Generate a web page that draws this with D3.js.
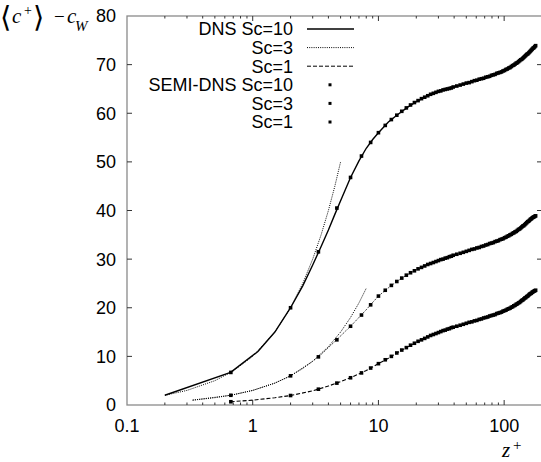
<!DOCTYPE html>
<html>
<head>
<meta charset="utf-8">
<script src="https://cdn.jsdelivr.net/npm/d3@7"></script>
<style>
  body { margin: 0; background: #fff; }
  svg { display: block; }
</style>
</head>
<body>
<div id="chart"></div>
<script>
// DNS curves
var dnsZ10 = [0.2, 0.667, 1.1, 1.5, 2, 2.5, 3, 3.5, 4, 4.5, 5, 6, 7, 8, 9, 10, 12, 14, 17, 20, 25, 30, 40, 50, 60, 70, 80, 100, 120, 140, 160, 180];
var dnsC10 = [2, 6.7, 11, 15, 20, 24.5, 28.8, 32.6, 36, 39.2, 42, 46.8, 50.2, 52.8, 54.6, 56.0, 58.2, 59.6, 61.2, 62.4, 63.7, 64.5, 65.4, 66.2, 66.8, 67.35, 67.85, 68.85, 70.0, 71.3, 72.7, 74.0];

var dnsZ3 = [0.333, 0.667, 1, 1.5, 2, 2.5, 3, 3.5, 4, 5, 6, 7, 8, 9, 10, 12, 14, 17, 20, 25, 30, 40, 50, 60, 70, 80, 100, 120, 140, 160, 180];
var dnsC3 = [1, 2, 3, 4.5, 6, 7.5, 9, 10.4, 11.8, 14.2, 16.2, 18.0, 19.6, 21.1, 22.4, 24.1, 25.4, 26.8, 27.8, 28.9, 29.7, 30.8, 31.6, 32.2, 32.9, 33.4, 34.4, 35.4, 36.7, 38.0, 39.0];

var dnsZ1 = [0.667, 1, 1.5, 2, 3, 4, 5, 6, 7, 8, 10, 12, 14, 17, 20, 25, 30, 40, 50, 60, 70, 80, 100, 120, 140, 160, 180];
var dnsC1 = [0.67, 1.0, 1.5, 1.95, 2.9, 3.9, 4.8, 5.6, 6.4, 7.1, 8.5, 9.6, 10.7, 11.9, 12.9, 14.1, 14.9, 16.0, 16.8, 17.4, 17.9, 18.4, 19.4, 20.4, 21.6, 22.8, 23.6];

// near-wall lines, drawn dotted without a key entry
var wallZ10 = [0.2, 0.3, 0.5, 0.7, 1, 1.5, 2, 2.5, 3, 3.5, 4, 4.5, 5];
var wallC10 = [2, 3, 5, 7, 10, 15, 20, 25, 30, 35, 40, 45, 50];
var wallZ3 = [0.333, 0.5, 0.7, 1, 1.5, 2, 3, 4, 5, 6, 7, 8];
var wallC3 = [1, 1.5, 2.1, 3, 4.5, 6, 9, 12, 15, 18, 21, 24];

// SEMI-DNS points
var semiZ = [0.67, 2, 3.33, 4.67, 6, 7.33, 8.67, 10, 11.33, 12.67, 14, 15.33, 16.67, 18, 19.33, 20.67, 22, 23.33, 24.67, 26,
  27.33, 28.67, 30, 31.33, 32.67, 34, 35.33, 36.67, 38, 39.33,
  42, 44.67, 47.33, 50, 52.67, 55.33, 58, 60.67, 63.33, 66, 68.67, 71.33, 74, 76.67, 79.33, 82, 84.67, 87.33, 90, 92.67,
  95.33, 98, 100.67, 103.33, 106, 108.67, 111.33, 114, 116.67, 119.33, 122, 124.67, 127.33, 130, 132.67, 135.33, 138, 140.67, 143.33, 146,
  148.67, 151.33, 154, 156.67, 159.33, 162, 164.67, 167.33, 170, 172.67, 175.33, 178];
var semiC10 = [6.7, 20, 31.5, 40.5, 46.8, 51.2, 54.0, 56.0, 57.5, 58.7, 59.6, 60.4, 61.1, 61.7, 62.2, 62.6, 63.0, 63.3, 63.6, 63.9,
  64.1, 64.3, 64.5, 64.6, 64.8, 64.9, 65.0, 65.1, 65.2, 65.4,
  65.6, 65.8, 66.0, 66.2, 66.3, 66.5, 66.7, 66.8, 67.0, 67.1, 67.2, 67.4, 67.5, 67.6, 67.8, 67.9, 68.0, 68.2, 68.3, 68.4,
  68.5, 68.7, 68.8, 69.0, 69.1, 69.3, 69.4, 69.6, 69.8, 69.9, 70.1, 70.3, 70.4, 70.6, 70.8, 71.0, 71.1, 71.3, 71.5, 71.7,
  71.9, 72.1, 72.2, 72.4, 72.6, 72.8, 73.0, 73.2, 73.4, 73.5, 73.7, 73.9];
var semiC3 = [2.0, 6.0, 9.9, 13.4, 16.2, 18.5, 20.6, 22.4, 23.6, 24.6, 25.4, 26.1, 26.7, 27.2, 27.6, 28.0, 28.3, 28.6, 28.9, 29.1,
  29.3, 29.5, 29.7, 29.9, 30.0, 30.2, 30.3, 30.5, 30.6, 30.8,
  31.0, 31.2, 31.4, 31.6, 31.8, 32.0, 32.1, 32.3, 32.4, 32.6, 32.7, 32.9, 33.0, 33.2, 33.3, 33.4, 33.6, 33.7, 33.8, 34.0,
  34.1, 34.2, 34.4, 34.5, 34.7, 34.8, 35.0, 35.1, 35.3, 35.4, 35.6, 35.7, 35.9, 36.1, 36.2, 36.4, 36.6, 36.8, 36.9, 37.1,
  37.3, 37.5, 37.7, 37.8, 38.0, 38.2, 38.3, 38.5, 38.6, 38.7, 38.8, 38.9];
var semiC1 = [0.67, 1.95, 3.25, 4.5, 5.6, 6.6, 7.6, 8.5, 9.3, 10.0, 10.7, 11.3, 11.8, 12.3, 12.7, 13.1, 13.4, 13.7, 14.0, 14.3,
  14.5, 14.7, 14.9, 15.1, 15.3, 15.4, 15.6, 15.7, 15.9, 16.0,
  16.2, 16.4, 16.6, 16.8, 17.0, 17.1, 17.3, 17.4, 17.6, 17.7, 17.9, 18.0, 18.1, 18.3, 18.4, 18.5, 18.6, 18.8, 18.9, 19.0,
  19.1, 19.3, 19.4, 19.5, 19.7, 19.8, 19.9, 20.1, 20.2, 20.4, 20.5, 20.7, 20.8, 21.0, 21.1, 21.3, 21.5, 21.6, 21.8, 22.0,
  22.1, 22.3, 22.4, 22.6, 22.8, 22.9, 23.0, 23.2, 23.3, 23.4, 23.5, 23.6];

var xTicks = [0.1, 1, 10, 100];
var yTicks = [0, 10, 20, 30, 40, 50, 60, 70, 80];
var keyLabels = ["DNS Sc=10", "Sc=3", "Sc=1", "SEMI-DNS Sc=10", "Sc=3", "Sc=1"];

var width = 541, height = 462;
var plotL = 127, plotR = 542, plotT = 16, plotB = 405;

var svg = d3.select("#chart").append("svg")
    .attr("width", width)
    .attr("height", height);

var x = d3.scaleLog().domain([0.1, 200]).range([plotL, plotR]);
var y = d3.scaleLinear().domain([0, 80]).range([plotB, plotT]);

function zip(zs, cs) {
  return zs.map(function(z, i) { return [z, cs[i]]; });
}

var line = d3.line()
    .x(function(d) { return x(d[0]); })
    .y(function(d) { return y(d[1]); });

var styles = {
  solid: null,
  dotted: "1,1.2",
  dashed: "4,2"
};

// border
svg.append("rect")
    .attr("x", plotL).attr("y", plotT)
    .attr("width", plotR - plotL).attr("height", plotB - plotT)
    .style("fill", "none")
    .style("stroke", "#8a8a8a")
    .style("stroke-width", 1.3);

// y ticks, left and right
var tickG = svg.append("g").style("stroke", "#333").style("stroke-width", 1);
yTicks.forEach(function(t) {
  if (t === 0 || t === 80) return;
  tickG.append("line").attr("x1", plotL).attr("x2", plotL + 5).attr("y1", y(t)).attr("y2", y(t));
  tickG.append("line").attr("x1", plotR - 5).attr("x2", plotR).attr("y1", y(t)).attr("y2", y(t));
});

// x ticks, major and minor, bottom and top
var minor = [];
[0.1, 1, 10, 100].forEach(function(d) {
  for (var k = 2; k <= 9; k++) if (d * k <= 200) minor.push(d * k);
});
minor.forEach(function(t) {
  tickG.append("line").attr("x1", x(t)).attr("x2", x(t)).attr("y1", plotB).attr("y2", plotB - 2.5);
  tickG.append("line").attr("x1", x(t)).attr("x2", x(t)).attr("y1", plotT).attr("y2", plotT + 2.5);
});
xTicks.forEach(function(t) {
  if (t === 0.1) return;
  tickG.append("line").attr("x1", x(t)).attr("x2", x(t)).attr("y1", plotB).attr("y2", plotB - 5);
  tickG.append("line").attr("x1", x(t)).attr("x2", x(t)).attr("y1", plotT).attr("y2", plotT + 5);
});

// tick labels
var labelFont = "'Liberation Sans', Arial, sans-serif";
svg.append("g").selectAll("text")
    .data(yTicks).enter().append("text")
    .attr("x", plotL - 11)
    .attr("y", function(d) { return y(d); })
    .attr("dy", "0.36em")
    .attr("text-anchor", "end")
    .style("font-family", labelFont)
    .style("font-size", "18px")
    .text(function(d) { return d; });

svg.append("g").selectAll("text")
    .data(xTicks).enter().append("text")
    .attr("x", function(d) { return x(d); })
    .attr("y", 432)
    .attr("text-anchor", "middle")
    .style("font-family", labelFont)
    .style("font-size", "18px")
    .text(function(d) { return d; });

// axis titles
var serif = "'Liberation Serif', 'DejaVu Serif', serif";
var yl = svg.append("g").style("font-family", serif);
yl.append("text").attr("x", 0).attr("y", 27).style("font-size", "29px").style("font-family", "'DejaVu Serif', serif").text("\u27E8");
yl.append("text").attr("x", 12).attr("y", 23).style("font-size", "21px").style("font-style", "italic").text("c");
yl.append("text").attr("x", 24).attr("y", 15).style("font-size", "14px").text("+");
yl.append("text").attr("x", 33).attr("y", 27).style("font-size", "29px").style("font-family", "'DejaVu Serif', serif").text("\u27E9");
yl.append("text").attr("x", 54).attr("y", 23).style("font-size", "19px").text("\u2212");
yl.append("text").attr("x", 67).attr("y", 23).style("font-size", "21px").style("font-style", "italic").text("c");
yl.append("text").attr("x", 75).attr("y", 31).style("font-size", "15px").style("font-style", "italic").text("W");

var xl = svg.append("g").style("font-family", serif);
xl.append("text").attr("x", 502).attr("y", 457).style("font-size", "21px").style("font-style", "italic").text("z");
xl.append("text").attr("x", 513).attr("y", 450).style("font-size", "15px").text("+");

// curves
var curves = [
  { data: zip(wallZ10, wallC10), dash: styles.dotted, w: 1 },
  { data: zip(wallZ3, wallC3), dash: styles.dotted, w: 1 },
  { data: zip(dnsZ10, dnsC10), dash: styles.solid, w: 1.4 },
  { data: zip(dnsZ3, dnsC3), dash: styles.dotted, w: 1 },
  { data: zip(dnsZ1, dnsC1), dash: styles.dashed, w: 1.1 }
];
svg.append("g").selectAll("path")
    .data(curves).enter().append("path")
    .attr("d", function(d) { return line(d.data); })
    .style("fill", "none")
    .style("stroke", "#000")
    .style("stroke-width", function(d) { return d.w; })
    .style("stroke-dasharray", function(d) { return d.dash; });

// SEMI-DNS points
var ms = 3.6;
[semiC10, semiC3, semiC1].forEach(function(cs) {
  svg.append("g").selectAll("rect")
      .data(zip(semiZ, cs)).enter().append("rect")
      .attr("x", function(d) { return x(d[0]) - ms / 2; })
      .attr("y", function(d) { return y(d[1]) - ms / 2; })
      .attr("width", ms).attr("height", ms)
      .style("fill", "#000");
});

// key
var key = svg.append("g");
var rowY = function(i) { return 29 + i * 18.6; };
key.selectAll("text")
    .data(keyLabels).enter().append("text")
    .attr("x", 293)
    .attr("y", function(d, i) { return rowY(i); })
    .attr("dy", "0.36em")
    .attr("text-anchor", "end")
    .style("font-family", labelFont)
    .style("font-size", "18px")
    .text(function(d) { return d; });

[styles.solid, styles.dotted, styles.dashed].forEach(function(dash, i) {
  key.append("line")
      .attr("x1", 307).attr("x2", 354)
      .attr("y1", rowY(i)).attr("y2", rowY(i))
      .style("stroke", "#000")
      .style("stroke-width", i === 0 ? 1.4 : 1)
      .style("stroke-dasharray", dash);
});
[3, 4, 5].forEach(function(i) {
  key.append("rect")
      .attr("x", 330 - 1.5).attr("y", rowY(i) - 1.5)
      .attr("width", 3).attr("height", 3)
      .style("fill", "#000");
});
</script>
</body>
</html>
